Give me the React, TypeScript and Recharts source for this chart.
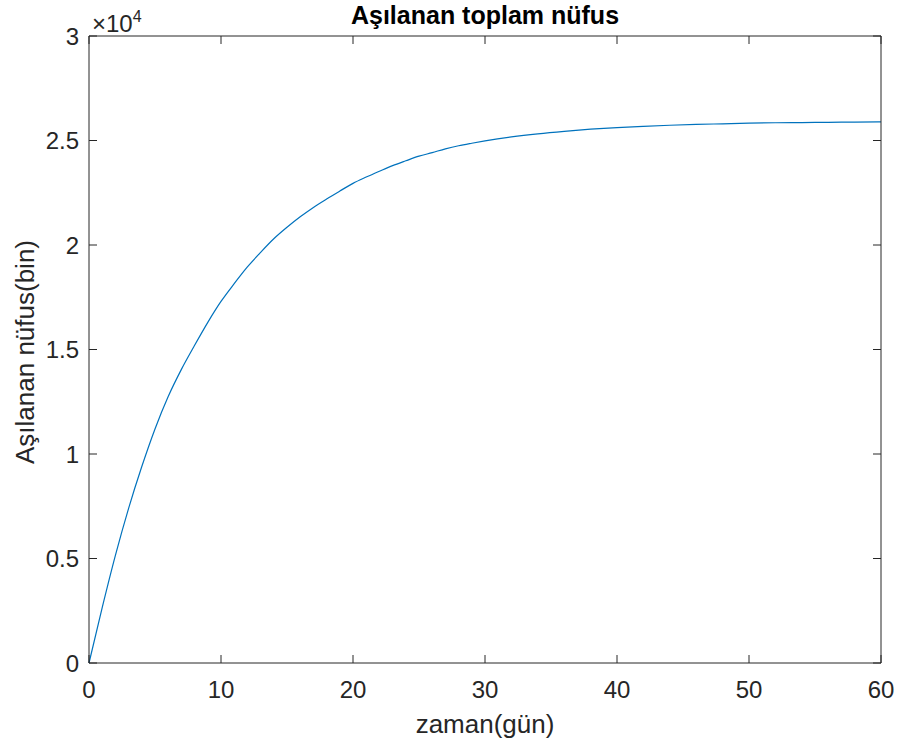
import { LineChart, Line, XAxis, YAxis } from "recharts";

// days and vaccinated population
const days = [
  0, 1, 2, 3, 4, 5, 6, 7, 8, 9, 10, 11, 12, 13, 14, 15, 16, 17, 18, 19, 20,
  21, 22, 23, 24, 25, 26, 27, 28, 29, 30, 32, 34, 36, 38, 40, 42, 44, 46, 48,
  50, 52, 54, 56, 58, 60,
];
const vaccinated = [
  0, 2650, 5150, 7400, 9400, 11200, 12750, 14050, 15200, 16300, 17300, 18150,
  18950, 19650, 20300, 20850, 21350, 21800, 22200, 22580, 22950, 23250, 23530,
  23800, 24030, 24250, 24420, 24600, 24750, 24870, 24980, 25170, 25320, 25440,
  25540, 25620, 25680, 25730, 25770, 25800, 25830, 25850, 25860, 25870, 25880,
  25890,
];
const xTicks = [0, 10, 20, 30, 40, 50, 60];
const yTicks = [0, 5000, 10000, 15000, 20000, 25000, 30000];

const data = days.map((d, i) => ({ t: d, v: vaccinated[i] }));

const W = 898;
const H = 749;
const axisColor = "#262626";
const font = "'Liberation Sans', Arial, Helvetica, sans-serif";

export default function App() {
  return (
    <div style={{ position: "absolute", left: 0, top: 0, width: W, height: H, background: "#fff" }}>
      <LineChart
        width={W}
        height={H}
        data={data}
        margin={{ top: 35, right: 16, bottom: 56, left: 0 }}
        style={{ fontFamily: font }}
      >
        <XAxis
          dataKey="t"
          type="number"
          domain={[0, 60]}
          ticks={xTicks}
          height={30}
          tickSize={-8}
          tickMargin={26}
          stroke={axisColor}
          fontSize={24}
          tick={{ fill: axisColor, fontSize: 24 }}
        />
        <XAxis
          xAxisId="top"
          orientation="top"
          dataKey="t"
          type="number"
          domain={[0, 60]}
          ticks={xTicks}
          height={1}
          tickSize={-8}
          tickFormatter={() => ""}
          stroke={axisColor}
        />
        <YAxis
          type="number"
          domain={[0, 30000]}
          ticks={yTicks}
          width={89}
          tickSize={-8}
          tickMargin={18}
          stroke={axisColor}
          fontSize={24}
          tickFormatter={(v: number) => String(v / 10000)}
          tick={{ fill: axisColor, fontSize: 24 }}
        />
        <YAxis
          yAxisId="right"
          orientation="right"
          type="number"
          domain={[0, 30000]}
          ticks={yTicks}
          width={1}
          tickSize={-8}
          tickFormatter={() => ""}
          stroke={axisColor}
        />
        {/* invisible copy bound to the top/right axes so the box frame is drawn */}
        <Line
          xAxisId="top"
          yAxisId="right"
          dataKey="v"
          type="monotone"
          stroke="none"
          dot={false}
          legendType="none"
          isAnimationActive={false}
        />
        <Line
          dataKey="v"
          type="monotone"
          stroke="#0072BD"
          strokeWidth={1.2}
          dot={false}
          isAnimationActive={false}
        />
      </LineChart>
      <svg
        width={W}
        height={H}
        style={{ position: "absolute", left: 0, top: 0, pointerEvents: "none", fontFamily: font }}
      >
        <text x={485} y={24} textAnchor="middle" fontSize={25} fontWeight="bold" fill="#000">
          Aşılanan toplam nüfus
        </text>
        <text x={92} y={32} fontSize={24} fill={axisColor}>
          ×10
          <tspan fontSize={16} dy={-10}>4</tspan>
        </text>
        <text x={485} y={733} textAnchor="middle" fontSize={26} fill={axisColor}>
          zaman(gün)
        </text>
        <text
          x={34}
          y={352}
          textAnchor="middle"
          fontSize={26}
          fill={axisColor}
          transform="rotate(-90 34 352)"
        >
          Aşılanan nüfus(bin)
        </text>
      </svg>
    </div>
  );
}
